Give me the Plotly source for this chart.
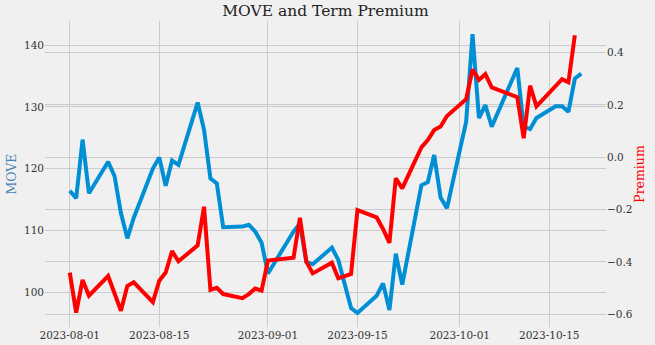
import plotly.graph_objects as go

dates = [
    "2023-08-01", "2023-08-02", "2023-08-03", "2023-08-04",
    "2023-08-07", "2023-08-08", "2023-08-09", "2023-08-10", "2023-08-11",
    "2023-08-14", "2023-08-15", "2023-08-16", "2023-08-17", "2023-08-18",
    "2023-08-21", "2023-08-22", "2023-08-23", "2023-08-24", "2023-08-25",
    "2023-08-28", "2023-08-29", "2023-08-30", "2023-08-31", "2023-09-01",
    "2023-09-05", "2023-09-06", "2023-09-07", "2023-09-08",
    "2023-09-11", "2023-09-12", "2023-09-14", "2023-09-15",
    "2023-09-18", "2023-09-19", "2023-09-20", "2023-09-21", "2023-09-22",
    "2023-09-25", "2023-09-26", "2023-09-27", "2023-09-28", "2023-09-29",
    "2023-10-02", "2023-10-03", "2023-10-04", "2023-10-05", "2023-10-06",
    "2023-10-10", "2023-10-11", "2023-10-12", "2023-10-13",
    "2023-10-16", "2023-10-17", "2023-10-18", "2023-10-19", "2023-10-20",
]

move = [
    116.4, 115.2, 124.7, 116.0,
    121.1, 118.8, 112.8, 108.7, 112.0,
    120.0, 121.8, 117.2, 121.3, 120.6,
    130.7, 126.3, 118.4, 117.6, 110.5,
    110.6, 110.9, 109.8, 108.0, 103.0,
    109.8, 111.1, 104.9, 104.5,
    107.2, 105.2, 97.4, 96.6,
    99.4, 101.4, 97.1, 106.2, 101.2,
    117.3, 117.8, 122.2, 115.3, 113.6,
    127.6, 141.8, 128.2, 130.3, 126.8,
    136.3, 126.8, 126.4, 128.2,
    130.1, 130.1, 129.2, 134.6, 135.4,
]

term_premium = [
    -0.441, -0.594, -0.469, -0.529,
    -0.454, -0.520, -0.587, -0.492, -0.478,
    -0.554, -0.472, -0.441, -0.359, -0.398,
    -0.337, -0.189, -0.507, -0.499, -0.523,
    -0.539, -0.523, -0.502, -0.510, -0.395,
    -0.384, -0.231, -0.399, -0.444,
    -0.403, -0.463, -0.446, -0.202,
    -0.230, -0.274, -0.327, -0.080, -0.119,
    0.038, 0.066, 0.104, 0.118, 0.158,
    0.222, 0.336, 0.296, 0.318, 0.267,
    0.230, 0.073, 0.274, 0.195,
    None, 0.299, 0.287, 0.467, None,
]

x_ticks = ["2023-08-01", "2023-08-15", "2023-09-01", "2023-09-15", "2023-10-01", "2023-10-15"]
left_ticks = [100, 110, 120, 130, 140]
right_ticks = [-0.6, -0.4, -0.2, 0.0, 0.2, 0.4]

BG = "#f0f0f0"
GRID = "#cbcbcb"
FONT = "DejaVu Serif"

fig = go.Figure()
fig.add_trace(go.Scatter(x=dates, y=move, mode="lines", name="MOVE",
                         line=dict(color="#008fd5", width=4), yaxis="y"))
fig.add_trace(go.Scatter(x=dates, y=term_premium, mode="lines", name="Premium",
                         line=dict(color="#ff0000", width=4), yaxis="y2",
                         connectgaps=True))

fig.update_layout(
    width=655, height=345,
    margin=dict(l=45, r=49, t=21, b=18),
    paper_bgcolor=BG, plot_bgcolor=BG,
    showlegend=False,
    font=dict(family=FONT, size=10, color="#333333"),
    title=dict(text="MOVE and Term Premium", x=0.5, xref="paper", xanchor="center",
               y=0.968, yref="container", yanchor="middle",
               font=dict(family=FONT, size=15.5, color="#222222")),
    xaxis=dict(type="date", range=["2023-07-28 03:00", "2023-10-23 21:00"],
               tickvals=x_ticks, tickformat="%Y-%m-%d", automargin=False,
               showgrid=True, gridcolor=GRID, gridwidth=1.3,
               zeroline=False, showline=False, ticks="",
               tickfont=dict(family=FONT, size=10.5, color="#333333")),
    yaxis=dict(range=[94.33, 143.92], tickvals=left_ticks, automargin=False,
               showgrid=True, gridcolor=GRID, gridwidth=1.3,
               zeroline=False, showline=False, ticks="",
               tickfont=dict(family=FONT, size=10.5, color="#333333"),
               title=dict(text="MOVE", standoff=4,
                          font=dict(family=FONT, size=12.5, color="#4682b4"))),
    yaxis2=dict(range=[-0.649, 0.5212], tickvals=right_ticks,
                tickformat=".1f", automargin=False,
                overlaying="y", side="right",
                showgrid=True, gridcolor=GRID, gridwidth=1.3,
                zeroline=False, showline=False, ticks="",
                tickfont=dict(family=FONT, size=10.5, color="#333333"),
                title=dict(text="Premium", standoff=3,
                           font=dict(family=FONT, size=12.5, color="#ff0000"))),
)

fig.write_html("out.html")
